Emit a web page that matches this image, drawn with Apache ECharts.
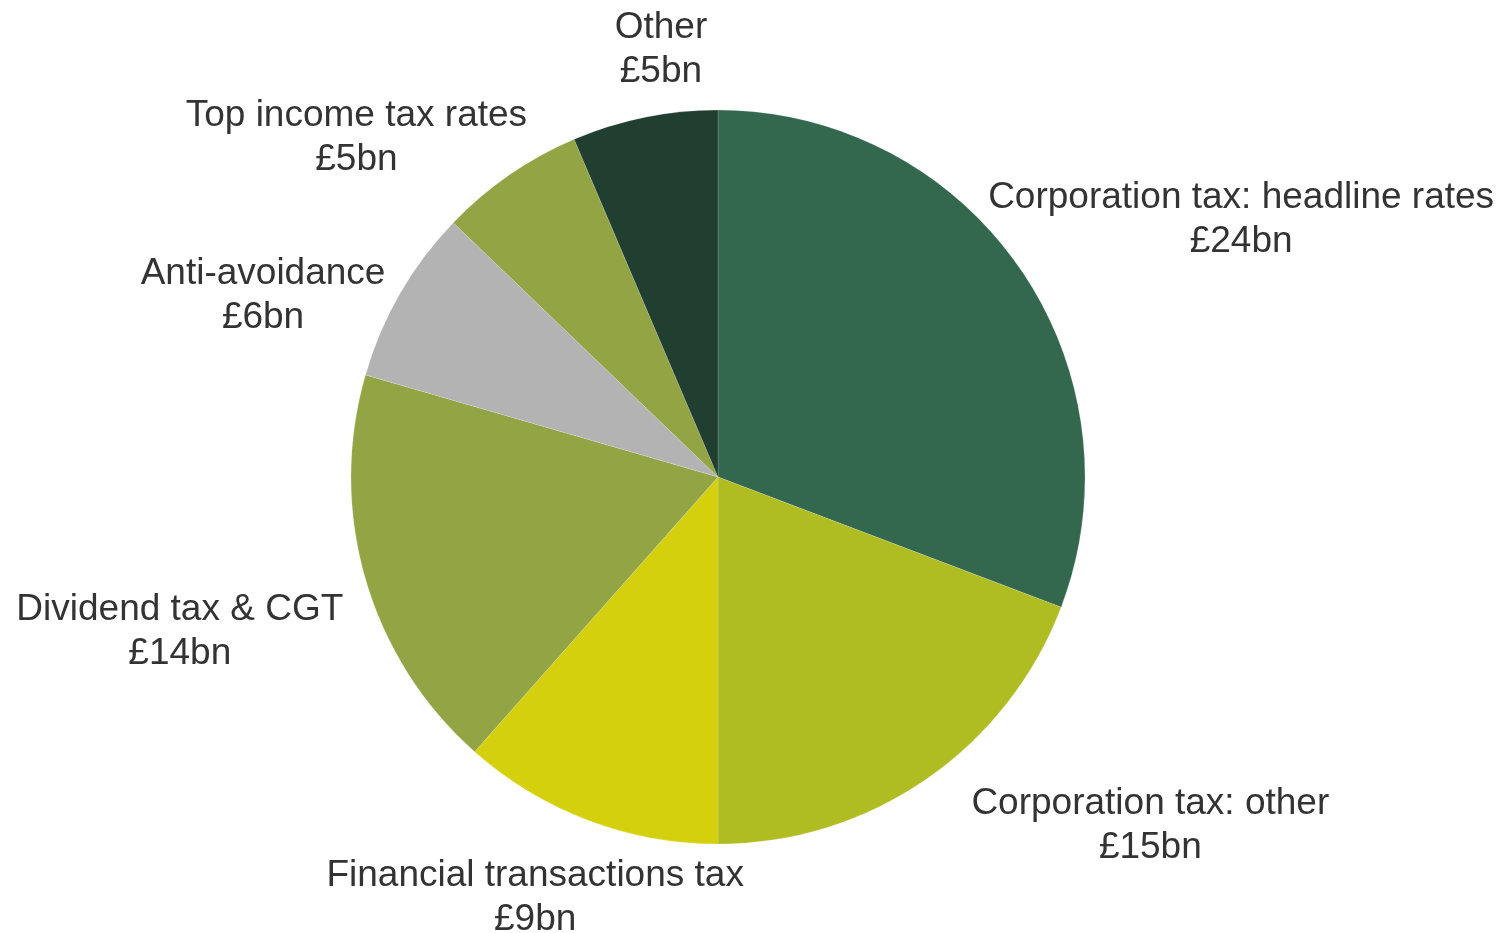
<!DOCTYPE html>
<html>
<head>
<meta charset="utf-8">
<title>Revenue sources</title>
<script src="https://cdn.jsdelivr.net/npm/echarts@6/dist/echarts.min.js"></script>
<style>
  html, body { margin: 0; padding: 0; background: #ffffff; }
  #chart { width: 1508px; height: 933px; }
</style>
</head>
<body>
<div id="chart"></div>
<script>
// Revenue by source, £bn
const categories = [
  'Corporation tax: headline rates',
  'Corporation tax: other',
  'Financial transactions tax',
  'Dividend tax & CGT',
  'Anti-avoidance',
  'Top income tax rates',
  'Other'
];
const values = [24, 15, 9, 14, 6, 5, 5];

// Slice colours, in category order
const colors = ['#33684F', '#AFBD22', '#D4D00D', '#93A445', '#B3B3B3', '#93A445', '#213F30'];

// Label placement around the pie: [distance as multiple of radius, angle shift in degrees]
const labelPlacement = [
  [1.593, 8.1],
  [1.507, -16.8],
  [1.241, 2.9],
  [1.523, 0.5],
  [1.338, -7.9],
  [1.358, -11.9],
  [1.185, 4.0]
];

const cx = 718, cy = 477, radius = 367;
const labelDrop = 3.5; // small downward nudge so the text sits on its visual centre

const total = values.reduce((s, v) => s + v, 0);
const cumBefore = values.map((v, i) => values.slice(0, i).reduce((s, x) => s + x, 0));

const chart = echarts.init(document.getElementById('chart'), null, { renderer: 'canvas' });

chart.setOption({
  backgroundColor: '#ffffff',
  animation: false,
  series: [{
    type: 'pie',
    center: [cx, cy],
    radius: radius,
    startAngle: 90,
    clockwise: true,
    avoidLabelOverlap: false,
    data: categories.map((name, i) => ({
      name: name,
      value: values[i],
      itemStyle: { color: colors[i] }
    })),
    itemStyle: {
      borderColor: 'rgba(255,255,255,0.3)',
      borderWidth: 0.5
    },
    label: {
      show: true,
      position: 'outside',
      formatter: (p) => p.name + '\n£' + p.value + 'bn',
      fontFamily: '"Liberation Sans", Arial, sans-serif',
      fontSize: 37,
      lineHeight: 44,
      color: '#333333'
    },
    labelLine: { show: false },
    emphasis: { disabled: true },
    labelLayout: function (params) {
      const i = params.dataIndex;
      const mid = (cumBefore[i] + values[i] / 2) / total * 360 + labelPlacement[i][1];
      const d = radius * labelPlacement[i][0];
      const a = mid * Math.PI / 180;
      return {
        x: cx + d * Math.sin(a),
        y: cy - d * Math.cos(a) + labelDrop,
        align: 'center',
        verticalAlign: 'middle'
      };
    }
  }]
});
</script>
</body>
</html>
